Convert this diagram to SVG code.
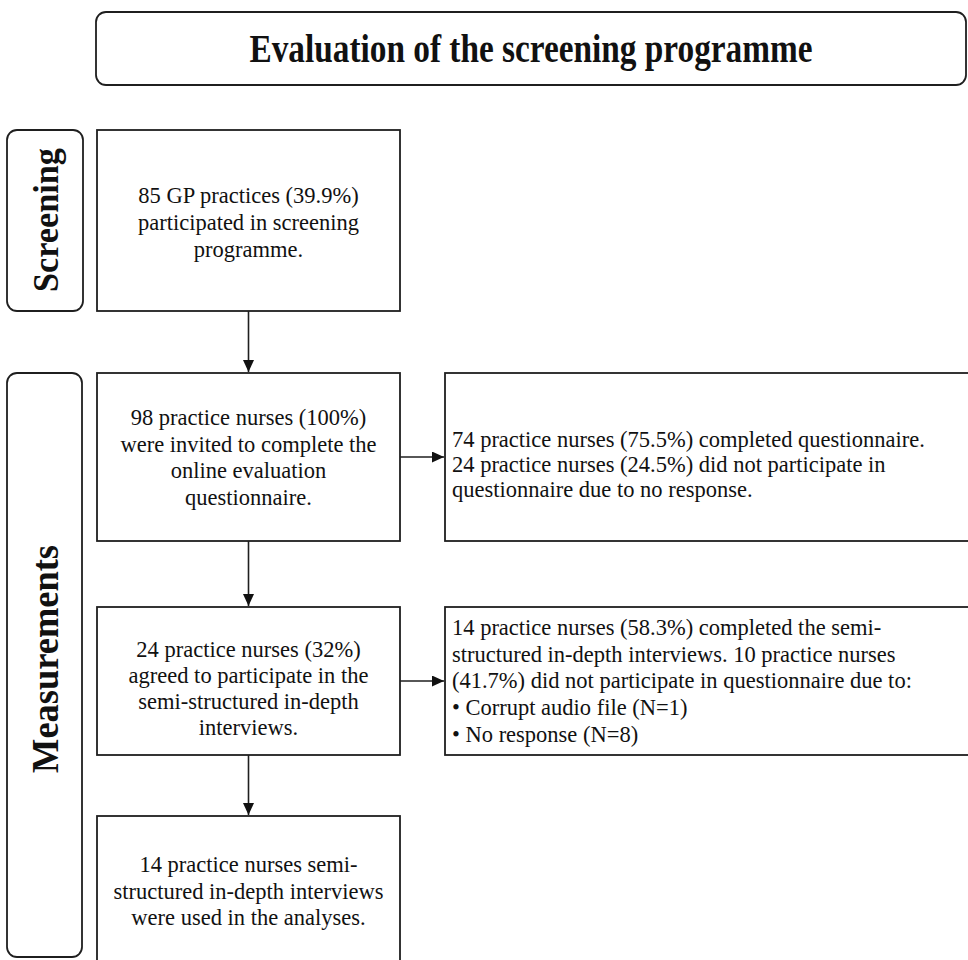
<svg xmlns="http://www.w3.org/2000/svg" width="968" height="960" viewBox="0 0 968 960">
<style>
.box{fill:#fff;stroke:#1f1f1f;stroke-width:1.8}
.t{font-family:'Liberation Serif','Times New Roman','DejaVu Serif',serif;font-size:22.5px;fill:#111}
.c{text-anchor:middle}
.b{font-family:'Liberation Serif','Times New Roman','DejaVu Serif',serif;font-weight:bold;fill:#111}
.conn{stroke:#1f1f1f;stroke-width:1.6;fill:none}
</style>
<defs>
<marker id="arr" markerUnits="userSpaceOnUse" markerWidth="13" markerHeight="11" refX="12" refY="5.5" orient="auto">
<path d="M0,0 L12,5.5 L0,11 Z" fill="#111"/>
</marker>
</defs>
<rect width="968" height="960" fill="#fff"/>
<g id="title">
<rect class="box" x="96" y="12" width="870" height="73" rx="10"/>
<text class="b c" x="531" y="62" font-size="40" textLength="563" lengthAdjust="spacingAndGlyphs">Evaluation of the screening programme</text>
</g>
<g id="label-screening">
<rect class="box" x="7" y="130" width="76" height="181" rx="10"/>
<text class="b c" font-size="36" transform="translate(58,220) rotate(-90)" textLength="144" lengthAdjust="spacingAndGlyphs">Screening</text>
</g>
<g id="label-measurements">
<rect class="box" x="7" y="373" width="75" height="584" rx="10"/>
<text class="b c" font-size="37" transform="translate(58,659) rotate(-90)" textLength="228" lengthAdjust="spacingAndGlyphs">Measurements</text>
</g>
<g id="n1">
<rect class="box" x="97" y="130" width="303" height="181"/>
<text class="t c" x="248.5" y="203">85 GP practices (39.9%)</text>
<text class="t c" x="248.5" y="230">participated in screening</text>
<text class="t c" x="248.5" y="257">programme.</text>
</g>
<g id="n2">
<rect class="box" x="97" y="373" width="303" height="168"/>
<text class="t c" x="248.5" y="425">98 practice nurses (100%)</text>
<text class="t c" x="248.5" y="452">were invited to complete the</text>
<text class="t c" x="248.5" y="478">online evaluation</text>
<text class="t c" x="248.5" y="505">questionnaire.</text>
</g>
<g id="n2r">
<rect class="box" x="445" y="373" width="530" height="168"/>
<text class="t" x="452" y="447">74 practice nurses (75.5%) completed questionnaire.</text>
<text class="t" x="452" y="472">24 practice nurses (24.5%) did not participate in</text>
<text class="t" x="452" y="497">questionnaire due to no response.</text>
</g>
<g id="n3">
<rect class="box" x="97" y="607" width="303" height="148"/>
<text class="t c" x="248.5" y="657">24 practice nurses (32%)</text>
<text class="t c" x="248.5" y="683">agreed to participate in the</text>
<text class="t c" x="248.5" y="709">semi-structured in-depth</text>
<text class="t c" x="248.5" y="735">interviews.</text>
</g>
<g id="n3r">
<rect class="box" x="445" y="607" width="530" height="148"/>
<text class="t" x="452" y="635">14 practice nurses (58.3%) completed the semi-</text>
<text class="t" x="452" y="662">structured in-depth interviews. 10 practice nurses</text>
<text class="t" x="452" y="688">(41.7%) did not participate in questionnaire due to:</text>
<text class="t" x="452" y="715">• Corrupt audio file (N=1)</text>
<text class="t" x="452" y="742">• No response (N=8)</text>
</g>
<g id="n4">
<rect class="box" x="97" y="816" width="303" height="160"/>
<text class="t c" x="248.5" y="872">14 practice nurses semi-</text>
<text class="t c" x="248.5" y="899">structured in-depth interviews</text>
<text class="t c" x="248.5" y="925">were used in the analyses.</text>
</g>
<g id="connectors">
<line class="conn" x1="248.5" y1="311" x2="248.5" y2="372" marker-end="url(#arr)"/>
<line class="conn" x1="248.5" y1="541" x2="248.5" y2="606" marker-end="url(#arr)"/>
<line class="conn" x1="248.5" y1="755" x2="248.5" y2="815" marker-end="url(#arr)"/>
<line class="conn" x1="400" y1="457" x2="444" y2="457" marker-end="url(#arr)"/>
<line class="conn" x1="400" y1="681" x2="444" y2="681" marker-end="url(#arr)"/>
</g>
</svg>
